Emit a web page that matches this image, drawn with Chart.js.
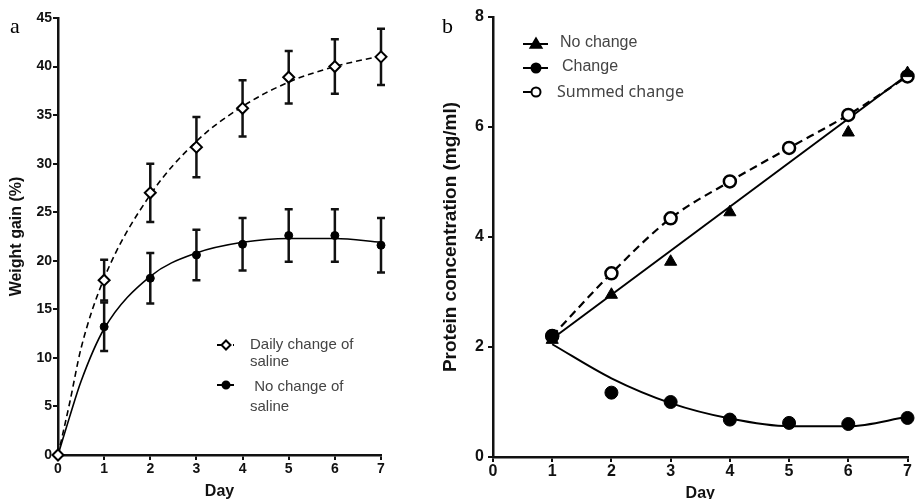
<!DOCTYPE html>
<html>
<head>
<meta charset="utf-8">
<script src="https://cdn.jsdelivr.net/npm/chart.js@4.4.1/dist/chart.umd.min.js"></script>
<style>
html, body { margin: 0; padding: 0; background: #fff; }
#wrap { position: relative; width: 916px; height: 499px; overflow: hidden; }
#chartA { position: absolute; left: 0; top: 0; width: 440px; height: 499px; }
#chartB { position: absolute; left: 440px; top: 0; width: 476px; height: 499px; }
.panel { position: absolute; font-family: 'Liberation Serif', serif; font-size: 22px; color: #000; line-height: 1; }
</style>
</head>
<body>
<div id="wrap">
  <canvas id="chartA" width="440" height="499"></canvas>
  <canvas id="chartB" width="476" height="499"></canvas>
  <div class="panel" style="left:10px;top:15px">a</div>
  <div class="panel" style="left:442px;top:15px">b</div>
</div>
<script>
// ---- panel a: weight gain ----
var daysA = [0, 1, 2, 3, 4, 5, 6, 7];
var dailyMean = [0, 18.0, 27.0, 31.7, 35.7, 38.9, 40.0, 41.0];
var dailyErr = [0, 2.1, 3.0, 3.1, 2.9, 2.7, 2.8, 2.9];
var noChgMean = [0, 13.2, 18.2, 20.6, 21.7, 22.6, 22.6, 21.6];
var noChgErr = [0, 2.5, 2.6, 2.6, 2.7, 2.7, 2.7, 2.8];
// fitted curves
var fitDaysA = [0, 0.25, 0.5, 1, 2, 3, 4, 5, 6, 7];
var dailyFit = [0, 5.3, 11.0, 18.2, 26.8, 32.3, 35.9, 38.4, 40.0, 41.1];
var noChgFit = [0, 3.9, 7.6, 13.0, 18.4, 20.8, 21.9, 22.3, 22.3, 21.9];
var xTicks = [0, 1, 2, 3, 4, 5, 6, 7];
var yTicksA = [0, 5, 10, 15, 20, 25, 30, 35, 40, 45];

// ---- panel b: protein concentration ----
var daysB = [1, 2, 3, 4, 5, 6, 7];
var noChangeB = [2.13, 2.95, 3.55, 4.45, null, 5.90, 6.98];
var changeB = [2.2, 1.17, 1.0, 0.68, 0.62, 0.6, 0.71];
var summedB = [2.2, 3.34, 4.34, 5.01, 5.62, 6.22, 6.92];
var changeFitB = [2.05, 1.43, 0.98, 0.70, 0.56, 0.56, 0.73];
var lineFitDaysB = [1, 7];
var noChangeFitB = [2.15, 6.95];
var yTicksB = [0, 2, 4, 6, 8];

var FONT = "'Liberation Sans', Arial, sans-serif";

function pts(xs, ys) {
    return xs.map(function (x, i) { return { x: x, y: ys[i] }; });
}

function marker(ctx, style, x, y, r, fill, lw) {
    ctx.beginPath();
    if (style === 'circle') {
        ctx.arc(x, y, r, 0, Math.PI * 2);
    } else if (style === 'rectRot') {
        ctx.moveTo(x, y - r); ctx.lineTo(x + r, y); ctx.lineTo(x, y + r); ctx.lineTo(x - r, y); ctx.closePath();
    } else if (style === 'triangle') {
        ctx.moveTo(x, y - r); ctx.lineTo(x + r, y + r * 0.7); ctx.lineTo(x - r, y + r * 0.7); ctx.closePath();
    }
    ctx.fillStyle = fill;
    ctx.fill();
    ctx.lineWidth = lw;
    ctx.strokeStyle = '#000';
    ctx.stroke();
}

var errorBars = {
    id: 'errorBars',
    beforeDatasetsDraw: function (chart) {
        var ctx = chart.ctx, xs = chart.scales.x, ys = chart.scales.y;
        chart.data.datasets.forEach(function (ds) {
            if (!ds.errors) return;
            ctx.save();
            ctx.strokeStyle = '#111';
            ctx.lineWidth = 2.5;
            ds.data.forEach(function (p, i) {
                var e = ds.errors[i];
                if (!e) return;
                var px = xs.getPixelForValue(p.x);
                var top = ys.getPixelForValue(p.y + e), bot = ys.getPixelForValue(p.y - e);
                ctx.beginPath();
                ctx.moveTo(px, top); ctx.lineTo(px, bot);
                ctx.moveTo(px - 4, top); ctx.lineTo(px + 4, top);
                ctx.moveTo(px - 4, bot); ctx.lineTo(px + 4, bot);
                ctx.stroke();
            });
            ctx.restore();
        });
    }
};

// in-plot legend, drawn at fixed spots
function legendPlugin(items, font, color) {
    return {
        id: 'boxLegend',
        afterDraw: function (chart) {
            var ctx = chart.ctx;
            ctx.save();
            items.forEach(function (it) {
                ctx.strokeStyle = '#000';
                ctx.lineWidth = 2;
                ctx.setLineDash(it.dash || []);
                ctx.beginPath();
                ctx.moveTo(it.x0, it.my); ctx.lineTo(it.x1, it.my);
                ctx.stroke();
                ctx.setLineDash([]);
                marker(ctx, it.style, it.mx, it.my, it.r, it.fill, 2);
                ctx.fillStyle = color;
                ctx.font = it.font || font;
                ctx.textBaseline = 'middle';
                it.lines.forEach(function (t, k) {
                    ctx.fillText(t, it.tx, it.ty[k]);
                });
            });
            ctx.restore();
        }
    };
}

function scales(o) {
    return {
        x: {
            type: 'linear', min: 0, max: 7,
            afterBuildTicks: function (s) { s.ticks = xTicks.map(function (v) { return { value: v }; }); },
            afterFit: function (s) { s.height = o.xh; },
            border: { display: true, color: '#111', width: 2.5 },
            grid: { drawOnChartArea: false, color: '#111', lineWidth: 2, tickLength: 5 },
            ticks: { color: '#111', padding: o.xpad, font: { family: FONT, size: o.xtick, weight: 'bold' } },
            title: { display: true, text: 'Day', color: '#111', padding: { top: 0, bottom: o.tb },
                font: { family: FONT, size: 16, weight: 'bold' } }
        },
        y: {
            type: 'linear', min: o.ymin, max: o.ymax,
            afterBuildTicks: function (s) { s.ticks = o.yticks.map(function (v) { return { value: v }; }); },
            afterFit: function (s) { s.width = o.yw; },
            border: { display: true, color: '#111', width: 2.5 },
            grid: { drawOnChartArea: false, color: '#111', lineWidth: 2, tickLength: 5 },
            ticks: { color: '#111', padding: o.ypad, font: { family: FONT, size: o.ytick, weight: 'bold' } },
            title: { display: true, text: o.ytitle, color: '#111', padding: { top: o.tp, bottom: 0 },
                font: { family: FONT, size: o.tsize, weight: 'bold' } }
        }
    };
}

var baseOpts = {
    responsive: false,
    animation: false,
    plugins: { legend: { display: false }, tooltip: { enabled: false } }
};

// ---- chart a ----
new Chart(document.getElementById('chartA').getContext('2d'), {
    type: 'line',
    data: {
        datasets: [{
            label: 'Daily change of saline',
            data: pts(daysA, dailyMean), errors: dailyErr,
            showLine: false, pointStyle: 'rectRot', pointRadius: 5.5,
            pointBackgroundColor: '#fff', pointBorderColor: '#000', pointBorderWidth: 2, clip: false
        }, {
            label: 'No change of saline',
            data: pts(daysA, noChgMean), errors: noChgErr,
            showLine: false, pointStyle: 'circle', pointRadius: 4,
            pointBackgroundColor: '#000', pointBorderColor: '#000', pointBorderWidth: 1, clip: false
        }, {
            data: pts(fitDaysA, dailyFit), pointRadius: 0, borderColor: '#000', borderWidth: 1.6,
            borderDash: [6, 4], cubicInterpolationMode: 'monotone', clip: false
        }, {
            data: pts(fitDaysA, noChgFit), pointRadius: 0, borderColor: '#000', borderWidth: 1.6,
            cubicInterpolationMode: 'monotone', clip: false
        }]
    },
    options: Object.assign({}, baseOpts, {
        layout: { padding: { left: 7, top: 18, right: 59, bottom: 0 } },
        scales: scales({ xh: 44, xpad: 1, tb: -2, xtick: 14, ytick: 14, ypad: 1, ymin: 0, ymax: 45,
            yticks: yTicksA, yw: 51, ytitle: 'Weight gain (%)', tsize: 16, tp: 0 })
    }),
    plugins: [errorBars, legendPlugin([
        { style: 'rectRot', fill: '#fff', r: 4.5, x0: 217, x1: 234, mx: 226, my: 345, dash: [5, 3],
          tx: 250, ty: [345, 362], lines: ['Daily change of', 'saline'] },
        { style: 'circle', fill: '#000', r: 3.5, x0: 217, x1: 234, mx: 226, my: 385,
          tx: 250, ty: [387, 407], lines: [' No change of', 'saline'] }
    ], '15px ' + FONT, '#444')]
});

// ---- chart b ----
new Chart(document.getElementById('chartB').getContext('2d'), {
    type: 'line',
    data: {
        datasets: [{
            label: 'No change',
            data: pts(daysB, noChangeB),
            showLine: false, pointStyle: 'triangle', pointRadius: 7,
            pointBackgroundColor: '#000', pointBorderColor: '#000', pointBorderWidth: 1, clip: false
        }, {
            label: 'Change',
            data: pts(daysB, changeB),
            showLine: false, pointStyle: 'circle', pointRadius: 6.5,
            pointBackgroundColor: '#000', pointBorderColor: '#000', pointBorderWidth: 1, clip: false
        }, {
            label: 'Summed change',
            data: pts(daysB, summedB),
            borderColor: '#000', borderWidth: 2.2, borderDash: [8, 5], cubicInterpolationMode: 'monotone',
            pointStyle: 'circle', pointRadius: 6,
            pointBackgroundColor: '#fff', pointBorderColor: '#000', pointBorderWidth: 2.5, clip: false
        }, {
            data: pts(daysB, changeFitB), pointRadius: 0, borderColor: '#000', borderWidth: 2,
            cubicInterpolationMode: 'monotone', clip: false
        }, {
            data: pts(lineFitDaysB, noChangeFitB), pointRadius: 0, borderColor: '#000', borderWidth: 2,
            clip: false
        }]
    },
    options: Object.assign({}, baseOpts, {
        layout: { padding: { left: 0, top: 17, right: 8, bottom: 0 } },
        scales: scales({ xh: 42, xpad: 0, tb: -4, xtick: 16, ytick: 16, ypad: 4, ymin: 0, ymax: 8,
            yticks: yTicksB, yw: 53, ytitle: 'Protein concentration (mg/ml)', tsize: 19, tp: -1 })
    }),
    plugins: [legendPlugin([
        { style: 'triangle', fill: '#000', r: 5.5, x0: 83, x1: 108, mx: 96, my: 44,
          tx: 120, ty: [43], lines: ['No change'] },
        { style: 'circle', fill: '#000', r: 4.5, x0: 83, x1: 108, mx: 96, my: 68,
          tx: 122, ty: [67], lines: ['Change'] },
        { style: 'circle', fill: '#fff', r: 4.5, x0: 83, x1: 96, mx: 96, my: 92,
          tx: 117, ty: [92], lines: ['Summed change'], font: "16px 'Noto Sans', sans-serif" }
    ], '16px ' + FONT, '#444')]
});
</script>
</body>
</html>
